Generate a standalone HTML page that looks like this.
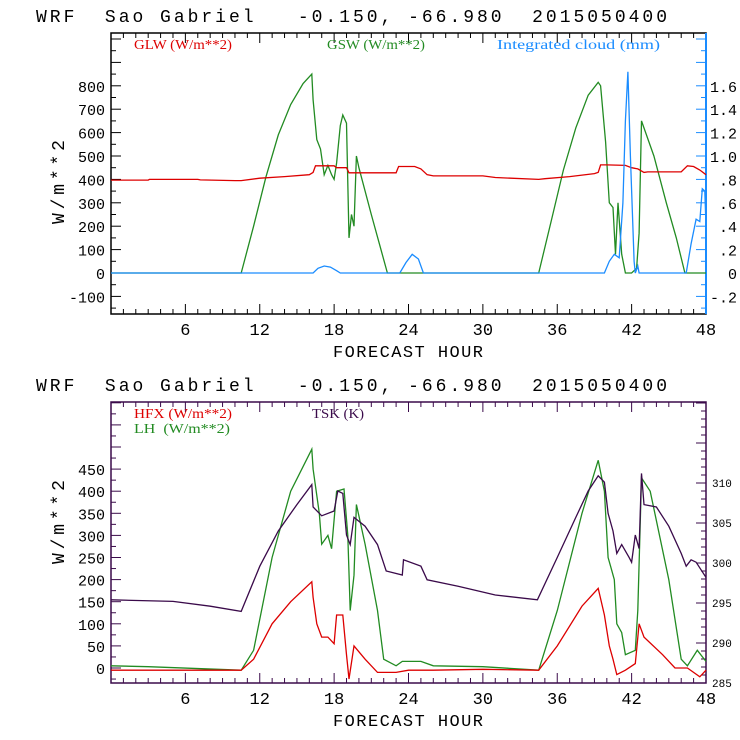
<!DOCTYPE html>
<html><head><meta charset="utf-8"><style>
html,body{margin:0;padding:0;background:#fff;}
svg{display:block;}
text{white-space:pre;}
</style></head><body>
<svg id="c" width="740" height="740" viewBox="0 0 740 740" xmlns="http://www.w3.org/2000/svg"></svg>
<script>
// ---------- DATA ----------
const xTicks = [6,12,18,24,30,36,42,48];
const topLeftTicks = [-100,0,100,200,300,400,500,600,700,800];
const topRightTicks = ['-.2','0','.2','.4','.6','.8','1.0','1.2','1.4','1.6'];
const topRightVals = [-0.2,0,0.2,0.4,0.6,0.8,1.0,1.2,1.4,1.6];
const botLeftTicks = [0,50,100,150,200,250,300,350,400,450];
const botRightTicks = [285,290,295,300,305,310];

const glwHours = [0,3,3.1,7,7.2,10,10.5,12,14,16,16.3,16.5,18,18.2,19,19.2,20,22,23,23.2,24.5,25,25.5,26,30,31,34.5,35,37,39,39.3,39.5,40,41.5,42,42.5,43,43.3,46,46.5,47,47.5,48];
const glwVals  = [397,397,400,400,398,395,395,405,412,420,430,458,458,450,450,428,428,428,428,455,455,445,420,415,415,408,400,403,412,425,430,462,462,460,450,445,430,432,432,458,455,440,420];

const gswHours = [0,10.5,11.5,12.5,13.5,14.5,15.5,16.2,16.3,16.6,16.9,17.2,17.5,17.8,18.0,18.2,18.5,18.7,19.0,19.2,19.4,19.6,19.8,20.0,21.0,22.3,34.5,35.5,36.5,37.5,38.5,39.3,39.5,39.7,39.9,40.2,40.5,40.7,40.9,41.2,41.5,42.0,42.4,42.6,42.8,43.8,44.8,45.6,46.3,48];
const gswVals  = [0,0,200,410,590,720,810,850,740,570,530,420,460,420,400,470,630,675,640,150,250,200,500,450,250,0,0,220,440,620,760,815,800,680,560,300,280,80,300,80,0,0,20,170,650,500,300,150,0,0];

const cldHours = [0,16.3,16.7,17.2,17.7,18.2,18.5,23.3,23.8,24.3,24.8,25.2,39.8,40.2,40.6,41.0,41.3,41.5,41.7,41.9,42.2,42.3,42.5,42.6,46.4,46.8,47.2,47.5,47.7,47.9,48];
const cldVals  = [0,0,0.04,0.06,0.05,0.02,0,0,0.09,0.16,0.12,0,0,0.1,0.16,0.13,0.6,1.3,1.72,1.0,0.1,0,0.06,0,0,0.25,0.46,0.44,0.72,0.7,0.4];

const lhHours = [0,3,10.5,11.5,13,14.5,16.2,16.3,16.8,17.0,17.5,17.8,18.2,18.8,19.1,19.3,19.6,19.8,20.5,21.5,22,23,23.5,25,26,30,34.5,36,38,39.3,39.8,40.1,40.3,40.6,40.8,41.2,41.5,42.3,42.5,42.8,43.5,45,46,46.5,47.3,48];
const lhVals  = [5,3,-5,40,250,400,495,450,350,280,300,270,400,405,300,130,210,370,280,130,20,5,15,15,5,3,-5,130,350,470,400,250,230,200,100,80,30,40,130,430,400,200,20,5,40,15];

const hfxHours = [0,10.5,11.5,13,14.5,16.2,16.3,16.6,17,17.5,18,18.2,18.7,19,19.2,19.6,20.5,21.5,23,24,26,30,34.5,36,38,39.3,39.8,40.2,40.5,40.8,41.5,42.3,42.6,43,44.5,45.5,46.5,47.5,48];
const hfxVals  = [-5,-5,20,100,150,195,160,100,70,70,55,120,120,30,-25,50,20,-10,-10,-5,-5,-3,-5,50,140,180,120,50,20,-15,-5,10,100,70,30,0,0,-20,-5];

const tskHours = [0,5,8,10.5,12,13.5,15,16.2,16.3,17,18,18.3,18.7,19,19.3,19.6,20.5,21.5,22.2,23.5,23.6,25,25.5,28,31,34.4,36,37.5,38.5,39.3,39.8,40.1,40.5,40.8,41.2,41.8,42,42.3,42.6,42.8,43,44,45,46,46.4,46.8,47.2,48];
const tskVals  = [295.4,295.2,294.6,293.95,299.6,304.0,307.3,309.8,307.0,305.9,306.5,309.0,308.7,303.5,302.3,305.7,304.6,302.3,299.0,298.5,300.4,299.6,297.9,297.1,296.0,295.4,300.7,305.7,309.0,310.9,310.1,306.2,304.0,301.2,302.3,300.7,300.1,303.5,301.8,311.2,307.3,307.0,304.6,301.2,299.6,300.4,300.1,298.2];

// ---------- DRAW ----------
const NS='http://www.w3.org/2000/svg';
const svg=document.getElementById('c');
function mk(tag,attrs,parent){const e=document.createElementNS(NS,tag);for(const k in attrs)e.setAttribute(k,attrs[k]);(parent||svg).appendChild(e);return e;}
const X0=111,X1=706;
const xs=h=>X0+(X1-X0)*h/48;

function panel(cfg){
  const g=mk('g',{});
  
  
  const t=mk('text',{x:36,y:cfg.top-11,'font-family':'Liberation Mono, monospace','font-size':'18','fill':'#000',textLength:631,lengthAdjust:'spacing'},g);
  t.textContent='WRF  Sao Gabriel   -0.150, -66.980  2015050400';
  
  
  const fr=mk('rect',{x:X0,y:cfg.top,width:X1-X0,height:cfg.bot-cfg.top,fill:'none',stroke:cfg.frame,'stroke-width':1.5},g);
  
  
  if(cfg.rightColor){
    const rl=mk('line',{x1:X1,y1:cfg.top,x2:X1,y2:cfg.bot,stroke:cfg.rightColor,'stroke-width':2},g);
    
    
  }
  for(let h=1;h<48;h++){
    const L=h%6===0?10:5;
    mk('line',{x1:xs(h),y1:cfg.bot,x2:xs(h),y2:cfg.bot-L,stroke:cfg.frame},g);
    mk('line',{x1:xs(h),y1:cfg.top,x2:xs(h),y2:cfg.top+L,stroke:cfg.frame},g);
  }
  xTicks.forEach(h=>{
    const tx=mk('text',{x:xs(h),y:cfg.bot+21,'text-anchor':'middle','font-family':'Liberation Mono, monospace','font-size':'17'},g);
    tx.textContent=h;
    
    
  });
  const xt=mk('text',{x:408,y:cfg.bot+43,'text-anchor':'middle','font-family':'Liberation Mono, monospace','font-size':'17',textLength:150,lengthAdjust:'spacing'},g);
  xt.textContent='FORECAST HOUR';
  
  
  const yt=mk('text',{x:0,y:0,'text-anchor':'middle','font-family':'Liberation Mono, monospace','font-size':'18',textLength:84,lengthAdjust:'spacing',transform:`translate(${cfg.ytx},${cfg.yty}) rotate(-90)`},g);
  yt.textContent='W/m**2';
  
  
  return g;
}
function line(g,hours,vals,yf,color,name){
  const pts=hours.map((h,i)=>xs(h).toFixed(1)+','+yf(vals[i]).toFixed(1)).join(' ');
  const p=mk('polyline',{points:pts,fill:'none',stroke:color,'stroke-width':1.3},g);
  
  
}
function label(g,x,y,txt,color,name,w){
  const t=mk('text',{x:x,y:y,'font-family':'Liberation Serif, serif','font-size':'14',fill:color,textLength:w,lengthAdjust:'spacingAndGlyphs'},g);
  t.textContent=txt;
  
  
}

// TOP PANEL
const T={name:'top-panel',top:33,bot:314,frame:'#000',rightColor:'#1a8cff',ytx:64,yty:182};
const gT=panel(T);
const yT=v=>273-v*0.234;
const yC=c=>273-c*117;
for(let v=-150;v<=1000;v+=50){const y=yT(v);if(y<T.top||y>T.bot)continue;mk('line',{x1:X0,y1:y,x2:X0+(v%100===0?10:5),y2:y,stroke:'#000'},gT);}
topLeftTicks.forEach(v=>{const t=mk('text',{x:105,y:yT(v)+6,'text-anchor':'end','font-family':'Liberation Mono, monospace','font-size':'15'},gT);t.textContent=v;});
for(let k=-3;k<=20;k++){const c=k/10;const y=yC(c);if(y<T.top||y>T.bot)continue;mk('line',{x1:X1,y1:y,x2:X1-(k%2===0?10:5),y2:y,stroke:'#1a8cff'},gT);}
topRightVals.forEach((c,i)=>{const t=mk('text',{x:737,y:yC(c)+6,'text-anchor':'end','font-family':'Liberation Mono, monospace','font-size':'15'},gT);t.textContent=topRightTicks[i];});
line(gT,gswHours,gswVals,yT,'#228b22','gsw-line');
line(gT,glwHours,glwVals,yT,'#dd0000','glw-line');
line(gT,cldHours,cldVals,yC,'#1a8cff','cloud-line');
label(gT,134,49,'GLW (W/m**2)','#dd0000','legend-glw',98);
label(gT,327,49,'GSW (W/m**2)','#228b22','legend-gsw',98);
label(gT,497,49,'Integrated cloud (mm)','#1a8cff','legend-cloud',163);

// BOTTOM PANEL
const B={name:'bottom-panel',top:402,bot:683,frame:'#3a0a4a',rightColor:null,ytx:64,yty:522};
const gB=panel(B);
const yB=v=>668-v*0.442;
const yK=k=>683-(k-285)*8;
for(let v=-25;v<=600;v+=25){const y=yB(v);if(y<B.top||y>B.bot)continue;mk('line',{x1:X0,y1:y,x2:X0+(v%50===0?10:5),y2:y,stroke:'#3a0a4a'},gB);}
botLeftTicks.forEach(v=>{const t=mk('text',{x:105,y:yB(v)+6,'text-anchor':'end','font-family':'Liberation Mono, monospace','font-size':'15'},gB);t.textContent=v;});
for(let k=285;k<=320;k++){const y=yK(k);if(y<B.top||y>B.bot)continue;mk('line',{x1:X1,y1:y,x2:X1-(k%5===0?10:5),y2:y,stroke:'#3a0a4a'},gB);}
botRightTicks.forEach(k=>{const t=mk('text',{x:712,y:yK(k)+4,'font-family':'Liberation Mono, monospace','font-size':'11'},gB);t.textContent=k;});
line(gB,lhHours,lhVals,yB,'#228b22','lh-line');
line(gB,hfxHours,hfxVals,yB,'#dd0000','hfx-line');
line(gB,tskHours,tskVals,yK,'#3a0a4a','tsk-line');
label(gB,134,418,'HFX (W/m**2)','#dd0000','legend-hfx',98);
label(gB,134,433,'LH  (W/m**2)','#228b22','legend-lh',96);
label(gB,312,418,'TSK (K)','#3a0a4a','legend-tsk',52);
</script>
</body></html>
